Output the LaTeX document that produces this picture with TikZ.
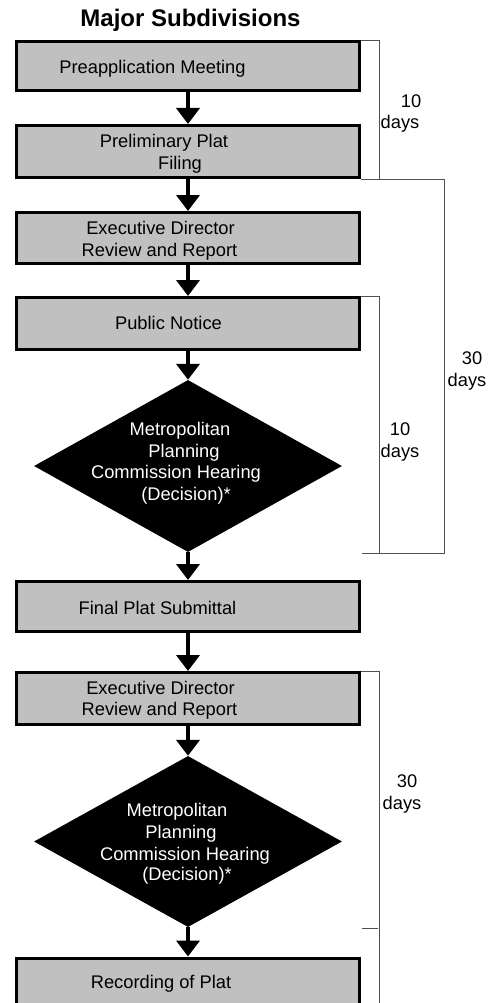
\documentclass[tikz,border=0pt]{standalone}
\usepackage{fontspec}
\setmainfont{Liberation Sans}
\usetikzlibrary{shapes.geometric,arrows.meta}
\definecolor{boxgray}{HTML}{C0C0C0}
\definecolor{brkgray}{HTML}{505050}
\begin{document}
\begin{tikzpicture}[x=1pt,y=-1pt,
  stepbox/.style={rectangle,draw=black,line width=3pt,fill=boxgray,minimum width=343pt,inner sep=0pt},
  decision/.style={diamond,fill=black,draw=none,minimum width=308pt,inner sep=0pt},
  flow/.style={line width=4pt,-{Triangle[width=23pt,length=16pt]}},
  brk/.style={draw=brkgray,line width=0.9pt},
  txt/.style={font=\fontsize{18.3}{22}\selectfont,anchor=base,inner sep=0pt},
  wtxt/.style={txt,text=white}]
\path[use as bounding box,clip] (0,0) rectangle (498,1003);
\fill[white] (0,0) rectangle (498,1003);

\node[font=\bfseries\fontsize{24}{28}\selectfont,anchor=base,inner sep=0pt] (title) at (190.5,26.7) {Major Subdivisions};

% boxes and decisions
\node[stepbox,minimum height=49pt] (b1) at (188,66) {};
\node[stepbox,minimum height=52pt] (b2) at (188,151.5) {};
\node[stepbox,minimum height=51pt] (b3) at (188,238) {};
\node[stepbox,minimum height=52pt] (b4) at (188,323.5) {};
\node[decision,minimum height=172pt] (d1) at (188,466) {};
\node[stepbox,minimum height=50pt] (b5) at (188,606.5) {};
\node[stepbox,minimum height=52pt] (b6) at (188,698.5) {};
\node[decision,minimum height=171pt] (d2) at (188,841.5) {};
\node[stepbox,minimum height=52pt] (b7) at (188,984) {};

% texts
\node[txt] (t1) at (152.5,74) {Preapplication Meeting};
\node[txt] (t2a) at (164,148) {Preliminary Plat};
\node[txt] (t2b) at (180,170) {Filing};
\node[txt] (t3a) at (160.5,234) {Executive Director};
\node[txt] (t3b) at (159.5,256) {Review and Report};
\node[txt] (t4) at (168.5,329.7) {Public Notice};
\node[wtxt] (u1a) at (180,435.7) {Metropolitan};
\node[wtxt] (u1b) at (184,457) {Planning};
\node[wtxt] (u1c) at (176,478.7) {Commission Hearing};
\node[wtxt] (u1d) at (186,500) {(Decision)*};
\node[txt] (t5) at (157.5,614) {Final Plat Submittal};
\node[txt] (t6a) at (160.5,694) {Executive Director};
\node[txt] (t6b) at (159.5,715.7) {Review and Report};
\node[wtxt] (u2a) at (177,816.7) {Metropolitan};
\node[wtxt] (u2b) at (181,838.3) {Planning};
\node[wtxt] (u2c) at (185,860) {Commission Hearing};
\node[wtxt] (u2d) at (187,880.7) {(Decision)*};
\node[txt] (t7) at (161,988) {Recording of Plat};

% flow arrows
\draw[flow] (b1.south) -- (b2.north);
\draw[flow] (b2.south) -- (b3.north);
\draw[flow] (b3.south) -- (b4.north);
\draw[flow] (b4.south) -- (d1.north);
\draw[flow] (d1.south) -- (b5.north);
\draw[flow] (b5.south) -- (b6.north);
\draw[flow] (b6.south) -- (d2.north);
\draw[flow] (d2.south) -- (b7.north);

% time brackets
\coordinate (e2) at (362,553);
\coordinate (e4) at (362,928);
\draw[brk] (b1.north east) -- ++(18.5,0) |- (b2.south east);
\draw[brk] (b2.south east) -- ++(83.5,0) |- (e2);
\draw[brk] (b4.north east) -- ++(18.5,0) |- (e2);
\draw[brk] (b6.north east) -- ++(18.5,0) -- ++(0,340);
\draw[brk] (e4) -- ++(16,0);

\node[txt] (l1a) at (411,107.3) {10};
\node[txt] (l1b) at (400,129) {days};
\node[txt] (l2a) at (472,364) {30};
\node[txt] (l2b) at (467,386) {days};
\node[txt] (l3a) at (400,435.7) {10};
\node[txt] (l3b) at (400,457.7) {days};
\node[txt] (l4a) at (407,787.7) {30};
\node[txt] (l4b) at (402,809.5) {days};
\end{tikzpicture}
\end{document}
